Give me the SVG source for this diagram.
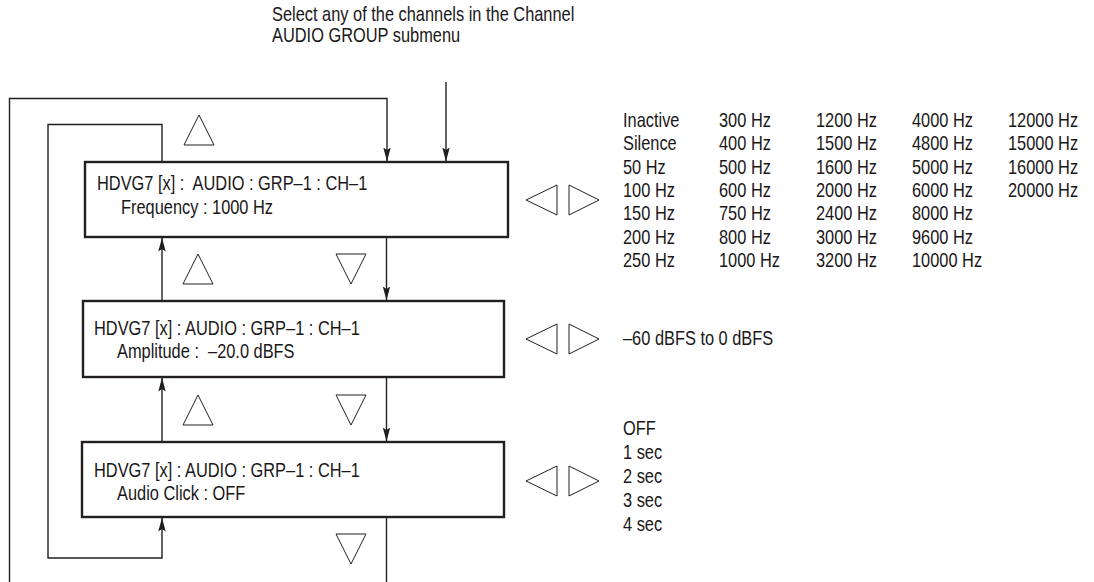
<svg xmlns="http://www.w3.org/2000/svg" width="1094" height="582" viewBox="0 0 1094 582">
<style>
text{font-family:"Liberation Sans",Arial,sans-serif;font-size:20px;fill:#1a1718}
.box{fill:#fff;stroke:#231f20;stroke-width:2.4}
.ln{fill:none;stroke:#231f20;stroke-width:1.4}
.tri{fill:#fff;stroke:#231f20;stroke-width:1}
</style>
<defs>
<marker id="arr" markerWidth="14" markerHeight="8" refX="13.5" refY="4" orient="auto" markerUnits="userSpaceOnUse" viewBox="0 0 14 8">
<path d="M0,0.3 L14,4 L0,7.7 L2.5,4 Z" fill="#231f20"/>
</marker>
<path id="up" d="M0,30 L15,0 L30,30 Z"/>
<path id="dn" d="M0,0 L30,0 L15,30 Z"/>
<path id="lt" d="M0,15 L31,0 L31,30 Z"/>
<path id="rt" d="M0,0 L30,15 L0,30 Z"/>
</defs>

<g id="connectors">
<path class="ln" d="M9.5,582 V98.5 H387 V161" marker-end="url(#arr)"/>
<path class="ln" d="M446,82 V161" marker-end="url(#arr)"/>
<path class="ln" d="M162,162 V124.5 H48 V558 H162 V518" marker-end="url(#arr)"/>
<path class="ln" d="M162,301 V238" marker-end="url(#arr)"/>
<path class="ln" d="M386.5,237 V300" marker-end="url(#arr)"/>
<path class="ln" d="M162,442 V378" marker-end="url(#arr)"/>
<path class="ln" d="M386.5,377 V441" marker-end="url(#arr)"/>
<path class="ln" d="M386.5,517 V582"/>
</g>

<g id="caption">
<text transform="translate(272,21) scale(0.82,1)">Select any of the channels in the Channel</text>
<text transform="translate(272,42) scale(0.82,1)">AUDIO GROUP submenu</text>
</g>

<g id="node-frequency">
<rect class="box" x="85" y="162" width="423" height="75"/>
<text transform="translate(97,190) scale(0.82,1)" xml:space="preserve">HDVG7 [x] :  AUDIO : GRP–1 : CH–1</text>
<text transform="translate(121,214) scale(0.82,1)">Frequency : 1000 Hz</text>
</g>

<g id="node-amplitude">
<rect class="box" x="83" y="301" width="421" height="76"/>
<text transform="translate(94,335) scale(0.82,1)">HDVG7 [x] : AUDIO : GRP–1 : CH–1</text>
<text transform="translate(117,358) scale(0.82,1)" xml:space="preserve">Amplitude :  –20.0 dBFS</text>
</g>

<g id="node-click">
<rect class="box" x="82" y="442" width="422" height="75"/>
<text transform="translate(94,477) scale(0.82,1)">HDVG7 [x] : AUDIO : GRP–1 : CH–1</text>
<text transform="translate(117,500) scale(0.82,1)">Audio Click : OFF</text>
</g>

<g id="keys">
<use href="#up" class="tri" x="184" y="115"/>
<use href="#up" class="tri" x="183" y="254"/>
<use href="#dn" class="tri" x="336" y="254"/>
<use href="#up" class="tri" x="183" y="395"/>
<use href="#dn" class="tri" x="336" y="395"/>
<use href="#dn" class="tri" x="336" y="534"/>
<use href="#lt" class="tri" x="526" y="185"/>
<use href="#rt" class="tri" x="569" y="185"/>
<use href="#lt" class="tri" x="526" y="324"/>
<use href="#rt" class="tri" x="569" y="324"/>
<use href="#lt" class="tri" x="526" y="466"/>
<use href="#rt" class="tri" x="569" y="466"/>
</g>

<g id="freq-values">
<g transform="translate(623,0) scale(0.82,1)">
<text y="127">Inactive</text><text y="150.3">Silence</text><text y="173.7">50 Hz</text><text y="197">100 Hz</text><text y="220.4">150 Hz</text><text y="243.7">200 Hz</text><text y="267">250 Hz</text>
</g>
<g transform="translate(719,0) scale(0.82,1)">
<text y="127">300 Hz</text><text y="150.3">400 Hz</text><text y="173.7">500 Hz</text><text y="197">600 Hz</text><text y="220.4">750 Hz</text><text y="243.7">800 Hz</text><text y="267">1000 Hz</text>
</g>
<g transform="translate(816,0) scale(0.82,1)">
<text y="127">1200 Hz</text><text y="150.3">1500 Hz</text><text y="173.7">1600 Hz</text><text y="197">2000 Hz</text><text y="220.4">2400 Hz</text><text y="243.7">3000 Hz</text><text y="267">3200 Hz</text>
</g>
<g transform="translate(912,0) scale(0.82,1)">
<text y="127">4000 Hz</text><text y="150.3">4800 Hz</text><text y="173.7">5000 Hz</text><text y="197">6000 Hz</text><text y="220.4">8000 Hz</text><text y="243.7">9600 Hz</text><text y="267">10000 Hz</text>
</g>
<g transform="translate(1008,0) scale(0.82,1)">
<text y="127">12000 Hz</text><text y="150.3">15000 Hz</text><text y="173.7">16000 Hz</text><text y="197">20000 Hz</text>
</g>
</g>

<g id="amp-values">
<text transform="translate(623,345) scale(0.82,1)">–60 dBFS to 0 dBFS</text>
</g>

<g id="click-values">
<g transform="translate(623,0) scale(0.82,1)">
<text y="435">OFF</text><text y="459">1 sec</text><text y="483">2 sec</text><text y="507">3 sec</text><text y="531">4 sec</text>
</g>
</g>
</svg>
